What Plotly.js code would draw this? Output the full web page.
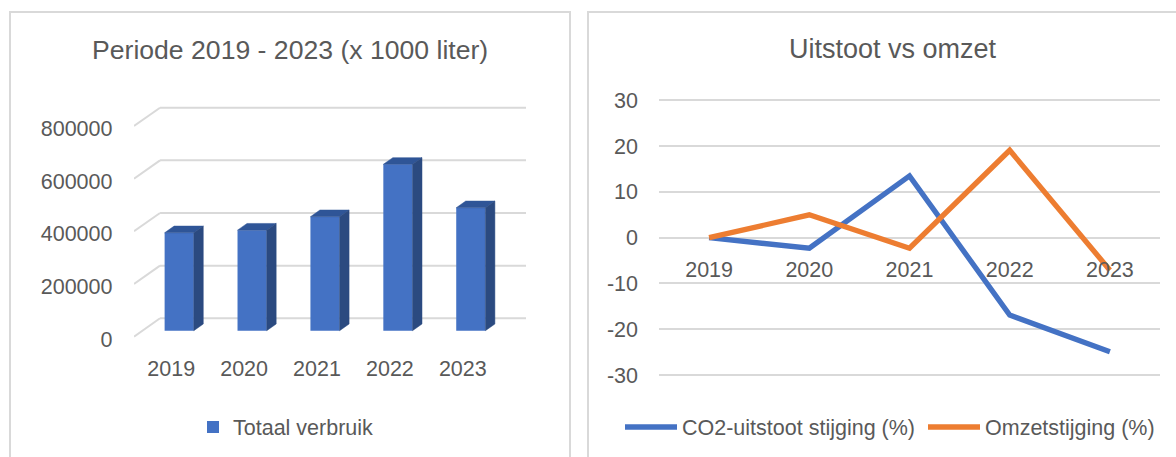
<!DOCTYPE html>
<html>
<head>
<meta charset="utf-8">
<script src="https://cdn.plot.ly/plotly-3.0.1.min.js"></script>
<style>
  html, body { margin: 0; padding: 0; background: #ffffff; }
  #chart { width: 1176px; height: 457px; }
</style>
</head>
<body>
<div id="chart"></div>
<script>
// ---------------- data ----------------
const years = ['2019', '2020', '2021', '2022', '2023'];
const totaalVerbruik = [372000, 382000, 433000, 632000, 467000];
const verbruikTicks = [0, 200000, 400000, 600000, 800000];
const co2Stijging = [0, -2.3, 13.5, -16.9, -24.9];
const omzetStijging = [0, 5.0, -2.3, 19.1, -7.1];
const pctTicks = [-30, -20, -10, 0, 10, 20, 30];

// ---------------- geometry helpers ----------------
const W = 1176, H = 457;
const fx = px => px / W;
const fy = py => 1 - py / H;

const FONT = 'Liberation Sans, Arial, sans-serif';
const TXT = '#595959';
const GRID = '#D9D9D9';

// left (3D column) chart
const K = 3798.7;                 // value units per pixel
const pitch = 72.9;               // px between categories
const barW = 0.4;                 // front face width (category units)
const depthX = 9.5 / pitch;       // bar depth, x
const depthY = 6.7 * K;           // bar depth, y
const backShift = 12.4 * K;       // back wall offset
const frontDrop = 5.9 * K;        // floor front offset
const xRange = [-0.620, 4.757];
const xBackStart = -0.263;
const idx = years.map((_, i) => i);

const topX = [], topY = [], sideX = [], sideY = [];
totaalVerbruik.forEach((v, i) => {
  const l = i - barW / 2, r = i + barW / 2;
  topX.push(l, r, r + depthX, l + depthX, l, null);
  topY.push(v, v, v + depthY, v + depthY, v, null);
  sideX.push(r, r + depthX, r + depthX, r, r, null);
  sideY.push(0, depthY, v + depthY, v, 0, null);
});

const gridShapes = [];
verbruikTicks.forEach(t => {
  gridShapes.push({type: 'line', xref: 'x', yref: 'y', layer: 'below',
    x0: xRange[0], y0: t - frontDrop, x1: xBackStart, y1: t + backShift,
    line: {color: GRID, width: 2}});
  gridShapes.push({type: 'line', xref: 'x', yref: 'y', layer: 'below',
    x0: xBackStart, y0: t + backShift, x1: xRange[1], y1: t + backShift,
    line: {color: GRID, width: 2}});
});

const traces = [
  {type: 'bar', x: idx, y: totaalVerbruik, width: barW, name: 'Totaal verbruik',
   marker: {color: '#4472C4', line: {width: 0}}, xaxis: 'x', yaxis: 'y',
   legend: 'legend', hoverinfo: 'skip'},
  {type: 'scatter', mode: 'lines', x: topX, y: topY, fill: 'toself',
   fillcolor: '#2F5597', line: {color: '#2F5597', width: 0.5},
   xaxis: 'x', yaxis: 'y', showlegend: false, hoverinfo: 'skip'},
  {type: 'scatter', mode: 'lines', x: sideX, y: sideY, fill: 'toself',
   fillcolor: '#2B4A80', line: {color: '#2B4A80', width: 0.5},
   xaxis: 'x', yaxis: 'y', showlegend: false, hoverinfo: 'skip'},
  {type: 'scatter', mode: 'markers', x: [0], y: [0], marker: {opacity: 0},
   xaxis: 'x', yaxis: 'y3', showlegend: false, hoverinfo: 'skip'},
  {type: 'scatter', mode: 'lines', x: years, y: co2Stijging,
   name: 'CO2-uitstoot stijging (%)', line: {color: '#4472C4', width: 5.3},
   xaxis: 'x2', yaxis: 'y2', legend: 'legend2', hoverinfo: 'skip'},
  {type: 'scatter', mode: 'lines', x: years, y: omzetStijging,
   name: 'Omzetstijging (%)', line: {color: '#ED7D31', width: 5.3},
   xaxis: 'x2', yaxis: 'y2', legend: 'legend2', hoverinfo: 'skip'}
];

const tickFont = {family: FONT, size: 21.5, color: TXT};

const layout = {
  width: W, height: H,
  margin: {l: 0, r: 0, t: 0, b: 0, pad: 0, autoexpand: false},
  paper_bgcolor: '#ffffff', plot_bgcolor: 'rgba(0,0,0,0)',
  font: {family: FONT, color: TXT},
  xaxis: {domain: [fx(134), fx(526)], range: xRange, anchor: 'y',
          tickvals: idx.map(i => i - 8 / pitch), ticktext: years,
          showgrid: false, zeroline: false, showline: false, ticks: '',
          tickfont: tickFont, ticklabelstandoff: 8, fixedrange: true},
  yaxis: {domain: [fy(345), fy(95)], range: [(330.7 - 345) * K, (330.7 - 95) * K],
          anchor: 'x', visible: false, fixedrange: true},
  yaxis3: {overlaying: 'y', anchor: 'free', position: fx(112.5), side: 'left',
           range: [(339 - 345) * K, (339 - 95) * K], tickvals: verbruikTicks,
           tickformat: 'd', showgrid: false, zeroline: false, showline: false,
           ticks: '', tickfont: tickFont, fixedrange: true},
  xaxis2: {domain: [fx(659), fx(1160)], type: 'category', range: [-0.5, 4.5],
           anchor: 'free', position: fy(237.7), showgrid: false, zeroline: false,
           showline: false, ticks: '', tickfont: tickFont, ticklabelstandoff: 17,
           fixedrange: true},
  yaxis2: {domain: [fy(380), fy(95)], range: [(237.7 - 380) / 4.578, (237.7 - 95) / 4.578],
           anchor: 'x2', tickvals: pctTicks, ticktext: pctTicks.map(String),
           gridcolor: GRID, gridwidth: 2,
           zeroline: false, showline: false, ticks: '', tickfont: tickFont,
           ticklabelstandoff: 20, fixedrange: true},
  legend: {x: fx(193), y: fy(427), xanchor: 'left', yanchor: 'middle',
           orientation: 'h', font: {family: FONT, size: 21.5, color: TXT},
           bgcolor: 'rgba(0,0,0,0)'},
  legend2: {x: fx(620), y: fy(427), xanchor: 'left', yanchor: 'middle',
            orientation: 'h', itemwidth: 52, entrywidth: 236, entrywidthmode: 'pixels',
            font: {family: FONT, size: 21.5, color: TXT}, bgcolor: 'rgba(0,0,0,0)'},
  annotations: [
    {text: 'Periode 2019 - 2023 (x 1000 liter)', xref: 'paper', yref: 'paper',
     x: fx(290), y: fy(50), xanchor: 'center', yanchor: 'middle', showarrow: false,
     font: {family: FONT, size: 26.6, color: TXT}},
    {text: 'Uitstoot vs omzet', xref: 'paper', yref: 'paper',
     x: fx(893), y: fy(49), xanchor: 'center', yanchor: 'middle', showarrow: false,
     font: {family: FONT, size: 27, color: TXT}}
  ],
  shapes: [
    {type: 'rect', xref: 'paper', yref: 'paper', x0: fx(10), x1: fx(570),
     y0: -0.1, y1: fy(12), line: {color: GRID, width: 2}, fillcolor: 'rgba(0,0,0,0)'},
    {type: 'rect', xref: 'paper', yref: 'paper', x0: fx(588), x1: 1.1,
     y0: -0.1, y1: fy(12), line: {color: GRID, width: 2}, fillcolor: 'rgba(0,0,0,0)'}
  ].concat(gridShapes),
  showlegend: true
};

Plotly.newPlot('chart', traces, layout, {staticPlot: true, displayModeBar: false});
</script>
</body>
</html>
